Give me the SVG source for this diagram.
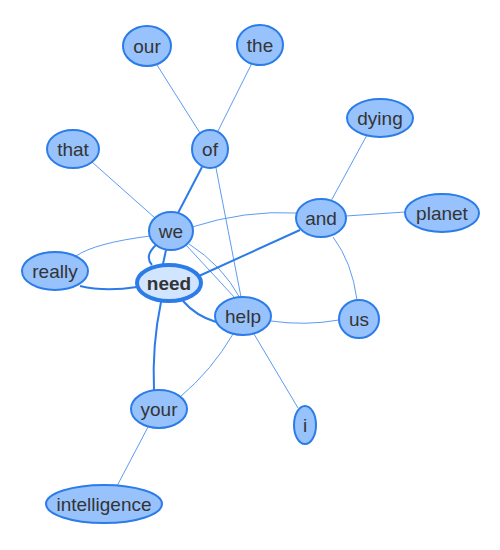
<svg xmlns="http://www.w3.org/2000/svg" width="500" height="550" viewBox="0 0 500 550">
<style>
.n ellipse{fill:#97c2fc;stroke:#2b7ce9;stroke-width:2}
.n text{font-family:"Liberation Sans",Arial,sans-serif;font-size:19px;fill:#343434;text-anchor:middle;dominant-baseline:central}
#n-need ellipse{fill:#d2e5ff;stroke-width:4}
#n-need text{font-weight:bold}
.e path{fill:none;stroke:#2b7ce9}
.e .t{stroke-width:0.9;stroke:#4a90f0}
.e .k{stroke-width:2}
</style>
<rect width="500" height="550" fill="#fff"/>
<g id="connectors" class="e">
<path class="t" d="M157,65 L200,133"/>
<path class="t" d="M252,63 L218,131"/>
<path class="t" d="M92,162 L155,218"/>
<path class="t" d="M367,135 L331,201"/>
<path class="t" d="M346,216 L405,212"/>
<path class="t" d="M148,427 L117,486"/>
<path class="t" d="M192,227 Q245,210 297,213"/>
<path class="t" d="M150,236 Q95,243 76,256"/>
<path class="t" d="M216,168 Q228,230 241,297"/>
<path class="t" d="M186,245 L235,298"/>
<path class="t" d="M189,244 Q222,265 240,298"/>
<path class="t" d="M271,321 Q305,326 339,320"/>
<path class="t" d="M333,237 Q352,262 357,300"/>
<path class="t" d="M233,334 Q212,370 180,397"/>
<path class="t" d="M254,334 L298,408"/>
<path class="k" d="M202,167 L178,213"/>
<path class="k" d="M166,250 L163,264"/>
<path class="k" d="M156,245 Q144,256 152,265"/>
<path class="k" d="M80,286 Q105,292 137,287"/>
<path class="k" d="M199,276 L300,230"/>
<path class="k" d="M183,301 Q196,316 216,322"/>
<path class="k" d="M161,302 Q152,345 154,391"/>
</g>
<g id="n-our" class="n"><ellipse cx="147" cy="46" rx="24" ry="20"/><text x="147" y="46">our</text></g>
<g id="n-the" class="n"><ellipse cx="260" cy="45" rx="23" ry="20"/><text x="260" y="45">the</text></g>
<g id="n-of" class="n"><ellipse cx="210" cy="149" rx="18" ry="19"/><text x="210" y="149">of</text></g>
<g id="n-that" class="n"><ellipse cx="73" cy="149" rx="26" ry="19"/><text x="73" y="149">that</text></g>
<g id="n-dying" class="n"><ellipse cx="380" cy="118" rx="33" ry="19"/><text x="380" y="118">dying</text></g>
<g id="n-we" class="n"><ellipse cx="171" cy="231" rx="22" ry="19"/><text x="171" y="231">we</text></g>
<g id="n-and" class="n"><ellipse cx="321" cy="218" rx="25" ry="19"/><text x="321" y="218">and</text></g>
<g id="n-planet" class="n"><ellipse cx="442" cy="213" rx="37" ry="19"/><text x="442" y="213">planet</text></g>
<g id="n-really" class="n"><ellipse cx="55" cy="271" rx="33" ry="19"/><text x="55" y="271">really</text></g>
<g id="n-need" class="n"><ellipse cx="169" cy="283" rx="32" ry="18"/><text x="169" y="283">need</text></g>
<g id="n-help" class="n"><ellipse cx="243" cy="316" rx="28" ry="19"/><text x="243" y="316">help</text></g>
<g id="n-us" class="n"><ellipse cx="359" cy="319" rx="20" ry="19"/><text x="359" y="319">us</text></g>
<g id="n-your" class="n"><ellipse cx="159" cy="409" rx="28" ry="19"/><text x="159" y="409">your</text></g>
<g id="n-i" class="n"><ellipse cx="305" cy="425" rx="11" ry="19"/><text x="305" y="425">i</text></g>
<g id="n-intelligence" class="n"><ellipse cx="104" cy="504" rx="58" ry="19"/><text x="104" y="504">intelligence</text></g>
</svg>
